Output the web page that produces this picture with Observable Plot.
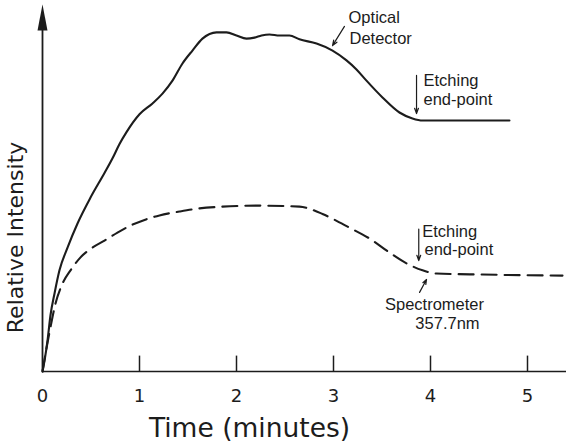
<!DOCTYPE html>
<html>
<head>
<meta charset="utf-8">
<script src="https://cdn.jsdelivr.net/npm/d3@7"></script>
<script src="https://cdn.jsdelivr.net/npm/@observablehq/plot@0.6"></script>
<style>
  html, body { margin: 0; padding: 0; background: #fff; }
  #chart { width: 566px; height: 445px; }
</style>
</head>
<body>
<div id="chart"></div>
<script>
// Optical detector (solid line): time (minutes) and relative intensity
const opticalTime = [0, 0.021, 0.052, 0.082, 0.124, 0.175, 0.258, 0.361, 0.495, 0.639, 0.722, 0.794, 0.866, 1.000, 1.134, 1.237, 1.340, 1.443, 1.546, 1.649, 1.794, 1.897, 2.000, 2.103, 2.186, 2.258, 2.340, 2.443, 2.546, 2.649, 2.825, 2.990, 3.134, 3.237, 3.340, 3.505, 3.680, 3.814, 3.918, 4.196, 4.814];
const opticalIntensity = [0, 0.031, 0.089, 0.160, 0.223, 0.289, 0.354, 0.423, 0.497, 0.567, 0.609, 0.650, 0.684, 0.735, 0.766, 0.794, 0.831, 0.880, 0.917, 0.951, 0.969, 0.969, 0.960, 0.951, 0.954, 0.960, 0.963, 0.960, 0.960, 0.949, 0.937, 0.917, 0.889, 0.863, 0.831, 0.783, 0.740, 0.723, 0.717, 0.717, 0.717];

// Spectrometer 357.7 nm (dashed line)
const spectroTime = [0, 0.031, 0.082, 0.134, 0.206, 0.289, 0.392, 0.515, 0.639, 0.773, 0.907, 1.031, 1.206, 1.412, 1.619, 1.856, 2.206, 2.649, 2.773, 2.887, 3.165, 3.371, 3.577, 3.753, 3.918, 4.062, 4.536, 5.361];
const spectroIntensity = [0, 0.051, 0.126, 0.194, 0.251, 0.289, 0.326, 0.354, 0.374, 0.397, 0.417, 0.431, 0.446, 0.457, 0.466, 0.471, 0.474, 0.471, 0.463, 0.450, 0.411, 0.380, 0.340, 0.309, 0.289, 0.280, 0.277, 0.274];

// Axis ticks
const xTicks = [0, 1, 2, 3, 4, 5];
const xTickLabels = ["0", "1", "2", "3", "4", "5"];

// Annotation labels (in data units)
const annoText = ["Optical", "Detector", "Etching", "end-point", "Etching", "end-point", "Spectrometer", "357.7nm"];
const annoTime = [3.155, 3.165, 3.928, 3.928, 3.914, 3.938, 4.041, 4.175];
const annoIntensity = [1.011, 0.951, 0.830, 0.776, 0.400, 0.349, 0.192, 0.137];
const annoAnchor = ["start", "start", "start", "start", "start", "start", "middle", "middle"];

// Annotation arrows: tail -> tip
const arrowT1 = [3.113, 3.856, 3.879, 3.887];
const arrowI1 = [0.986, 0.846, 0.407, 0.226];
const arrowT2 = [2.990, 3.856, 3.879, 3.959];
const arrowI2 = [0.931, 0.737, 0.317, 0.263];

// Axis titles
const xTitle = "Time (minutes)";
const yTitle = "Relative Intensity";

const optical = opticalTime.map((t, i) => ({t, v: opticalIntensity[i]}));
const spectro = spectroTime.map((t, i) => ({t, v: spectroIntensity[i]}));
const annos = annoText.map((text, i) => ({text, t: annoTime[i], v: annoIntensity[i], anchor: annoAnchor[i]}));
const arrows = arrowT1.map((t1, i) => ({t1, v1: arrowI1[i], t2: arrowT2[i], v2: arrowI2[i]}));

const ink = "#1c1c1c";
const font = "Liberation Sans, Arial, sans-serif";
const wide = "DejaVu Sans, sans-serif";

const chart = Plot.plot({
  width: 566,
  height: 445,
  marginLeft: 42,
  marginRight: 0,
  marginTop: 21,
  marginBottom: 74,
  x: {domain: [0, 524 / 97]},
  y: {domain: [0, 1], axis: null},
  style: {background: "#fff", color: ink, fontFamily: font},
  marks: [
    // x axis line and upward ticks
    Plot.ruleY([0], {stroke: ink, strokeWidth: 1.6}),
    Plot.ruleX(xTicks.slice(1), {y1: 0, y2: 0.044, stroke: ink, strokeWidth: 1.5}),
    Plot.axisX({
      ticks: xTicks,
      tickFormat: (d) => xTickLabels[xTicks.indexOf(d)],
      tickSize: 0,
      tickPadding: 18,
      fontSize: 18,
      fontFamily: wide,
      label: null
    }),
    // y axis line with arrow
    Plot.ruleX([0], {y1: 0, y2: 0.974, stroke: ink, strokeWidth: 1.8}),
    Plot.vector([{t: 0, v: 0.974}], {x: "t", y: "v", length: 26, rotate: 0, shape: "spike", r: 5, anchor: "start", fill: ink}),
    // curves
    Plot.line(optical, {x: "t", y: "v", curve: "monotone-x", stroke: ink, strokeWidth: 2.1}),
    Plot.line(spectro, {x: "t", y: "v", curve: "monotone-x", stroke: ink, strokeWidth: 2.1, strokeDasharray: "15,8"}),
    // annotations
    Plot.arrow(arrows, {x1: "t1", y1: "v1", x2: "t2", y2: "v2", stroke: ink, strokeWidth: 1.2, headLength: 7, headAngle: 40}),
    Plot.text(annos.filter(d => d.anchor === "start"), {x: "t", y: "v", text: "text", textAnchor: "start", fontSize: 16.5, fill: ink}),
    Plot.text(annos.filter(d => d.anchor === "middle"), {x: "t", y: "v", text: "text", textAnchor: "middle", fontSize: 16.5, fill: ink}),
    // axis titles
    Plot.text([yTitle], {x: -0.278, y: 0.383, rotate: -90, fontSize: 22, fontFamily: wide, fill: ink, text: d => d}),
    Plot.text([xTitle], {x: 2.134, y: -0.162, fontSize: 26.5, fontFamily: wide, fill: ink, text: d => d})
  ]
});

document.getElementById("chart").appendChild(chart);
</script>
</body>
</html>
